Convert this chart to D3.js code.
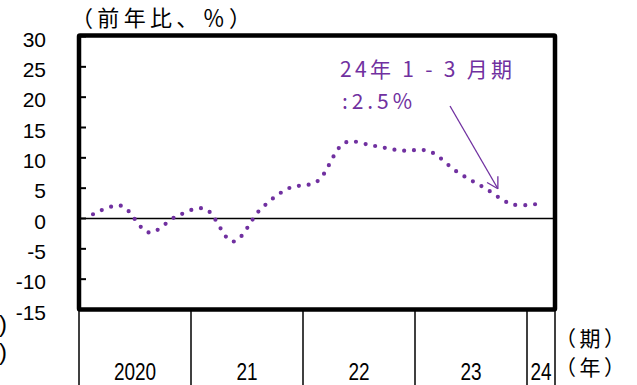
<!DOCTYPE html>
<html><head><meta charset="utf-8">
<script src="https://cdn.jsdelivr.net/npm/d3@7"></script>
<style>body{margin:0;background:#fff}svg{display:block}</style>
</head><body>
<script>
// ---- data ----
const years = ["2020", "21", "22", "23", "24"];
const quartersPerYear = [4, 4, 4, 4, 1];
const values = [0.7, 2.1, -2.3, 0.4, 1.6, -3.8, 1.6, 5.0, 6.1, 12.5, 12.0, 11.2, 11.1, 7.7, 5.0, 2.3, 2.5];
const yTicks = [30, 25, 20, 15, 10, 5, 0, -5, -10, -15];
const titleText = "（前年比、％）";
const annot1 = "24年 1 - 3 月期";
const annot2 = ":2.5%";

const W = 637, H = 385;
const purple = "#7030A0";
const svg = d3.select("body").append("svg").attr("width", W).attr("height", H);

const nQ = d3.sum(quartersPerYear);
const x = d3.scaleLinear().domain([0, nQ]).range([79, 555]);
const y = d3.scaleLinear().domain([-15, 30]).range([309.5, 36.5]);

// zero line
svg.append("line").attr("x1", x(0)).attr("x2", x(nQ)).attr("y1", y(0)).attr("y2", y(0))
  .attr("stroke", "#000").attr("stroke-width", 1.6);

// y ticks (inside)
svg.append("g").selectAll("line").data(yTicks).join("line")
  .attr("x1", x(0)).attr("x2", x(0) + 7).attr("y1", d => y(d)).attr("y2", d => y(d))
  .attr("stroke", "#000").attr("stroke-width", 2);
svg.append("g").selectAll("text").data(yTicks).join("text")
  .attr("x", 46).attr("y", d => y(d) + 10)
  .attr("text-anchor", "end").attr("font-family", "Liberation Sans, Arial, sans-serif")
  .attr("font-size", 21).text(d => d);

// frame
svg.append("rect").attr("x", x(0)).attr("y", y(30) - 1).attr("width", x(nQ) - x(0)).attr("height", y(-15) - y(30) + 1)
  .attr("fill", "none").attr("stroke", "#000").attr("stroke-width", 4.5).attr("rx", 1);

// year separators and labels
let cum = 0;
const bounds = [0];
quartersPerYear.forEach(q => { cum += q; bounds.push(cum); });
svg.append("g").selectAll("line").data(bounds).join("line")
  .attr("x1", d => x(d)).attr("x2", d => x(d)).attr("y1", y(-15)).attr("y2", H)
  .attr("stroke", "#000").attr("stroke-width", 1.5);
svg.append("g").selectAll("text").data(years).join("text")
  .attr("transform", (d, i) => `translate(${(x(bounds[i]) + x(bounds[i + 1])) / 2},380) scale(1,1.3)`)
  .attr("text-anchor", "middle").attr("font-family", "Liberation Sans, Arial, sans-serif")
  .attr("font-size", 19).text(d => d);

// dotted smooth line
const line = d3.line().x((d, i) => x(i + 0.5)).y(d => y(d)).curve(d3.curveCatmullRom.alpha(0.5));
svg.append("path").attr("d", line(values)).attr("fill", "none").attr("stroke", purple)
  .attr("stroke-width", 4.2).attr("stroke-linecap", "round").attr("stroke-dasharray", "0 9.8");

// title
svg.append("text").attr("x", 71).attr("y", 26).attr("font-family", "Noto Sans CJK JP")
  .attr("font-size", 22).attr("textLength", 180).attr("lengthAdjust", "spacing").text(titleText);

// right axis unit labels
svg.append("text").attr("x", 555).attr("y", 346).attr("font-family", "Noto Sans CJK JP")
  .attr("font-size", 21).attr("textLength", 70).attr("lengthAdjust", "spacing").text("（期）");
svg.append("text").attr("x", 555).attr("y", 375).attr("font-family", "Noto Sans CJK JP")
  .attr("font-size", 21).attr("textLength", 70).attr("lengthAdjust", "spacing").text("（年）");
// clipped left labels
svg.append("text").attr("x", -1).attr("y", 332).attr("font-family", "Liberation Sans, Arial")
  .attr("font-size", 24).text(")");
svg.append("text").attr("x", -1).attr("y", 360).attr("font-family", "Liberation Sans, Arial")
  .attr("font-size", 24).text(")");

// annotation
svg.append("text").attr("x", 340).attr("y", 77).attr("font-family", "Noto Sans CJK JP")
  .attr("font-size", 21).attr("fill", purple).attr("textLength", 172).attr("lengthAdjust", "spacing").text(annot1);
svg.append("text").attr("x", 342).attr("y", 109).attr("font-family", "Noto Sans CJK JP")
  .attr("font-size", 21).attr("fill", purple).attr("textLength", 70).attr("lengthAdjust", "spacing").text(annot2);

// arrow pointing to latest quarter region
const tip = [x(nQ - 2.04), y(4.9)];
const start = [450, 106];
const ang = Math.atan2(tip[1] - start[1], tip[0] - start[0]);
const wing = 12.5;
svg.append("line").attr("x1", start[0]).attr("y1", start[1]).attr("x2", tip[0]).attr("y2", tip[1])
  .attr("stroke", purple).attr("stroke-width", 1.3);
[Math.PI + ang - Math.PI / 6, Math.PI + ang + Math.PI / 6].forEach(a => {
  svg.append("line").attr("x1", tip[0]).attr("y1", tip[1])
    .attr("x2", tip[0] + wing * Math.cos(a)).attr("y2", tip[1] + wing * Math.sin(a))
    .attr("stroke", purple).attr("stroke-width", 1.3);
});
</script>
</body></html>
